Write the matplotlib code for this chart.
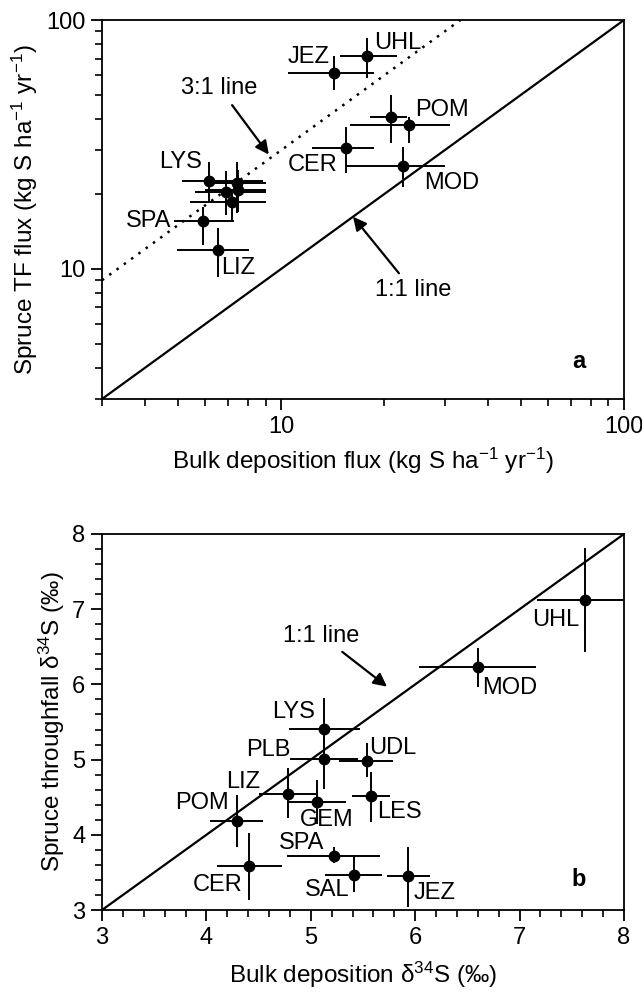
"""
Two panels: spruce throughfall vs bulk deposition, S flux (log) and d34S.
"""

import numpy as np
import matplotlib.pyplot as plt
from matplotlib.ticker import LogLocator, FixedLocator, MultipleLocator, NullFormatter

FS = 17

plt.rcParams.update({
    "font.family": ["Liberation Sans", "DejaVu Sans"],
    "font.size": FS,
    "axes.linewidth": 1.3,
    "xtick.direction": "out",
    "ytick.direction": "out",
    "xtick.major.size": 8,
    "ytick.major.size": 8,
    "xtick.minor.size": 5,
    "ytick.minor.size": 5,
    "xtick.major.width": 1.3,
    "ytick.major.width": 1.3,
    "xtick.minor.width": 1.2,
    "ytick.minor.width": 1.2,
    "xtick.major.pad": 4,
    "ytick.major.pad": 4,
    "xtick.labelsize": FS,
    "ytick.labelsize": FS,
    "mathtext.default": "regular",
})

# --- panel a : flux (kg S ha-1 yr-1) ---
names_a = ["JEZ", "UHL", "", "POM", "CER", "MOD", "LYS", "", "", "", "", "SPA", "LIZ"]
bulk_a = [14.3, 17.8, 20.9, 23.6, 15.4, 22.7, 6.17, 7.42, 6.92, 7.5, 7.17, 5.93, 6.55]
bulk_a_lo = [10.5, 14.8, 18.2, 15.9, 12.3, 15.3, 5.13, 6.0, 5.6, 6.0, 5.4, 4.86, 4.96]
bulk_a_hi = [18.6, 21.7, 23.3, 31.0, 18.6, 30.1, 8.83, 9.0, 9.0, 9.0, 9.0, 7.3, 8.04]
tf_a = [61.1, 71.7, 40.9, 37.8, 30.5, 25.9, 22.6, 22.1, 20.4, 20.7, 18.6, 15.6, 11.9]
tf_a_lo = [52.3, 58.5, 31.9, 31.9, 24.2, 21.3, 18.6, 16.8, 16.5, 17.0, 15.7, 12.5, 9.3]
tf_a_hi = [71.7, 85.0, 50.0, 40.9, 37.2, 30.9, 26.9, 26.9, 24.8, 25.0, 20.2, 17.8, 14.6]

# --- panel b : d34S (permil) ---
names_b = ["UHL", "MOD", "LYS", "PLB", "UDL", "LIZ", "GEM", "LES", "POM", "SPA", "CER", "SAL", "JEZ"]
bulk_b = [7.63, 6.60, 5.13, 5.13, 5.54, 4.78, 5.06, 5.58, 4.29, 5.22, 4.41, 5.41, 5.93]
bulk_b_lo = [7.17, 6.04, 4.79, 4.80, 5.27, 4.50, 4.79, 5.39, 4.03, 4.77, 4.10, 5.14, 5.73]
bulk_b_hi = [8.10, 7.16, 5.47, 5.45, 5.79, 5.06, 5.34, 5.76, 4.54, 5.66, 4.72, 5.68, 6.14]
tf_b = [7.12, 6.23, 5.41, 5.01, 4.98, 4.54, 4.44, 4.51, 4.19, 3.72, 3.59, 3.47, 3.45]
tf_b_lo = [6.43, 5.97, 5.05, 4.61, 4.77, 4.22, 4.15, 4.17, 3.84, 3.62, 3.13, 3.24, 3.04]
tf_b_hi = [7.81, 6.48, 5.82, 5.40, 5.22, 4.89, 4.73, 4.84, 4.53, 3.84, 4.03, 3.71, 3.84]

# label offsets in pixels (dx, dy), text centred
off_a = {"JEZ": (-26, 16), "UHL": (31, 13), "POM": (33, 15), "CER": (-33, -17),
         "MOD": (48, -17), "LYS": (-29, 19), "SPA": (-55, 0), "LIZ": (20, -18)}
off_b = {"UHL": (-30, -20), "MOD": (32, -21), "LYS": (-31, 17), "PLB": (-56, 9),
         "UDL": (26, 13), "LIZ": (-45, 12), "GEM": (10, -18), "LES": (28, -16),
         "POM": (-35, 18), "SPA": (-32, 13), "CER": (-32, -19), "SAL": (-26, -15),
         "JEZ": (27, -17)}


def errs(v, lo, hi):
    v, lo, hi = np.array(v), np.array(lo), np.array(hi)
    return [v - lo, hi - v]


def points(ax, x, xlo, xhi, y, ylo, yhi):
    ax.errorbar(x, y, xerr=errs(x, xlo, xhi), yerr=errs(y, ylo, yhi),
                fmt="o", color="black", ms=7.5, elinewidth=1.4, capsize=0, zorder=3)


def labels(ax, names, x, y, offsets):
    for n, xi, yi in zip(names, x, y):
        if n not in offsets:
            continue
        dx, dy = offsets[n]
        ax.annotate(n, (xi, yi), xytext=(dx, dy), textcoords="offset pixels",
                    ha="center", va="center", fontsize=FS)


fig = plt.figure(figsize=(6.42, 9.97), dpi=100)
arrow = dict(arrowstyle="-|>", color="black", lw=1.6, mutation_scale=20,
             shrinkA=3, shrinkB=0)

# ---------- a ----------
ax1 = fig.add_axes([102 / 642, 1 - 399 / 997, 522 / 642, 379 / 997])
ax1.set_xscale("log")
ax1.set_yscale("log")
ax1.set_xlim(3, 100)
ax1.set_ylim(3, 100)
ref = np.array([3, 100])
ax1.plot(ref, ref, color="black", lw=1.6, zorder=2)
ax1.plot(ref, 3 * ref, color="black", lw=1.8, ls=(0, (1, 2.6)), zorder=2)
points(ax1, bulk_a, bulk_a_lo, bulk_a_hi, tf_a, tf_a_lo, tf_a_hi)
labels(ax1, names_a, bulk_a, tf_a, off_a)

ax1.annotate("3:1 line", xy=(9.2, 28.8), xytext=(6.6, 53.3),
             ha="center", va="center", arrowprops=arrow)
ax1.annotate("1:1 line", xy=(16.2, 16.2), xytext=(24.2, 8.2),
             ha="center", va="center", arrowprops=arrow)
ax1.text(0.914, 0.098, "a", transform=ax1.transAxes, fontweight="bold",
         ha="center", va="center", fontsize=FS)

ax1.xaxis.set_major_locator(FixedLocator([10, 100]))
ax1.yaxis.set_major_locator(FixedLocator([10, 100]))
ax1.xaxis.set_minor_locator(LogLocator(base=10, subs=np.arange(2, 10)))
ax1.yaxis.set_minor_locator(LogLocator(base=10, subs=np.arange(2, 10)))
ax1.xaxis.set_major_formatter(plt.FuncFormatter(lambda v, p: f"{v:g}"))
ax1.yaxis.set_major_formatter(plt.FuncFormatter(lambda v, p: f"{v:g}"))
ax1.xaxis.set_minor_formatter(NullFormatter())
ax1.yaxis.set_minor_formatter(NullFormatter())
ax1.set_xlabel("Bulk deposition flux (kg S ha$^{-1}$ yr$^{-1}$)", labelpad=6,
               fontsize=17.5)
ax1.set_ylabel("Spruce TF flux (kg S ha$^{-1}$ yr$^{-1}$)", labelpad=4,
               fontsize=17.5)

# ---------- b ----------
ax2 = fig.add_axes([102 / 642, 1 - 910 / 997, 522 / 642, 376 / 997])
ax2.set_xlim(3, 8)
ax2.set_ylim(3, 8)
ref = np.array([3, 8])
ax2.plot(ref, ref, color="black", lw=1.6, zorder=2)
points(ax2, bulk_b, bulk_b_lo, bulk_b_hi, tf_b, tf_b_lo, tf_b_hi)
labels(ax2, names_b, bulk_b, tf_b, off_b)
ax2.annotate("1:1 line", xy=(5.73, 5.97), xytext=(5.1, 6.65),
             ha="center", va="center", arrowprops=arrow)
ax2.text(0.914, 0.08, "b", transform=ax2.transAxes, fontweight="bold",
         ha="center", va="center", fontsize=FS)
ax2.xaxis.set_major_locator(MultipleLocator(1))
ax2.yaxis.set_major_locator(MultipleLocator(1))
ax2.xaxis.set_minor_locator(MultipleLocator(0.2))
ax2.yaxis.set_minor_locator(MultipleLocator(0.2))
ax2.set_xlabel("Bulk deposition $\\delta^{34}$S (‰)", labelpad=8, fontsize=17.5)
ax2.set_ylabel("Spruce throughfall $\\delta^{34}$S (‰)", labelpad=4, fontsize=17.5)

for ax in (ax1, ax2):
    ax.tick_params(which="both", top=False, right=False)

fig.savefig("out.png", dpi=100)
